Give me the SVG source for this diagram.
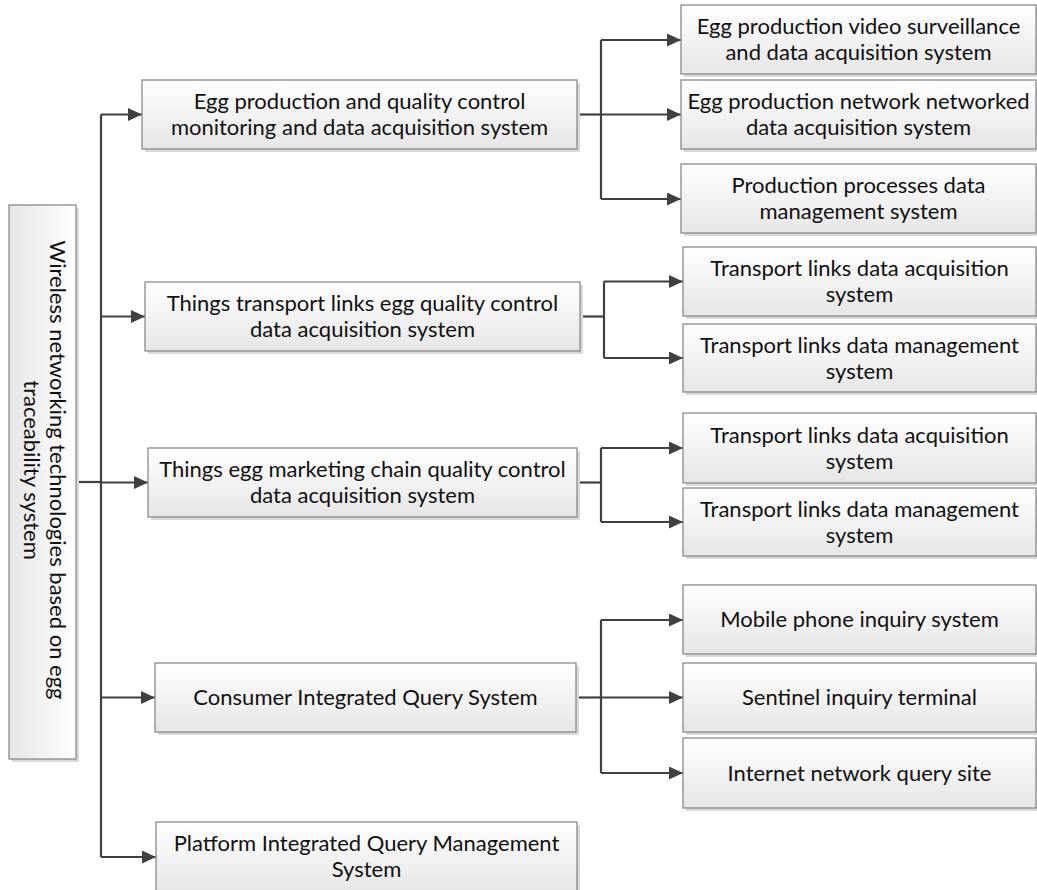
<svg xmlns="http://www.w3.org/2000/svg" width="1037" height="890" viewBox="0 0 1037 890">
<defs>
<linearGradient id="g" x1="0" y1="0" x2="0" y2="1">
<stop offset="0" stop-color="#ffffff"/>
<stop offset="1" stop-color="#e6e6e6"/>
</linearGradient>
<linearGradient id="gv" x1="0" y1="0" x2="1" y2="0">
<stop offset="0" stop-color="#e6e6e6"/>
<stop offset="1" stop-color="#ffffff"/>
</linearGradient>
<marker id="ar" markerUnits="userSpaceOnUse" markerWidth="15" markerHeight="13" refX="14" refY="6.5" orient="auto">
<path d="M0,0 L14,6.5 L0,13 Z" fill="#404040"/>
</marker>
</defs>
<style>
.box{fill:url(#g);stroke:#8a8a8a;stroke-width:1.3}
.sh{fill:#d9d9d9}
.t{font-family:Lato,"Open Sans",sans-serif;font-size:22px;fill:#111;text-anchor:middle}
.c{fill:none;stroke:#404040;stroke-width:2.2}
</style>
<rect width="1037" height="890" fill="#fff"/>

<g id="connectors">
<path class="c" d="M76,482 H101"/>
<path class="c" d="M101,114.5 V857"/>
<path class="c" d="M101,114.5 H142" marker-end="url(#ar)"/>
<path class="c" d="M101,316.5 H145" marker-end="url(#ar)"/>
<path class="c" d="M101,482.5 H148" marker-end="url(#ar)"/>
<path class="c" d="M101,697.5 H155" marker-end="url(#ar)"/>
<path class="c" d="M101,857 H156" marker-end="url(#ar)"/>

<path class="c" d="M577,114.5 H601"/>
<path class="c" d="M601,40 V199"/>
<path class="c" d="M601,40 H681" marker-end="url(#ar)"/>
<path class="c" d="M601,114.5 H681" marker-end="url(#ar)"/>
<path class="c" d="M601,199 H681" marker-end="url(#ar)"/>

<path class="c" d="M580,316.5 H604"/>
<path class="c" d="M604,281.5 V358"/>
<path class="c" d="M604,281.5 H683" marker-end="url(#ar)"/>
<path class="c" d="M604,358 H683" marker-end="url(#ar)"/>

<path class="c" d="M577,482.5 H601"/>
<path class="c" d="M601,448 V522"/>
<path class="c" d="M601,448 H683" marker-end="url(#ar)"/>
<path class="c" d="M601,522 H683" marker-end="url(#ar)"/>

<path class="c" d="M576,697.5 H601"/>
<path class="c" d="M601,620 V773"/>
<path class="c" d="M601,620 H683" marker-end="url(#ar)"/>
<path class="c" d="M601,697.5 H683" marker-end="url(#ar)"/>
<path class="c" d="M601,773 H683" marker-end="url(#ar)"/>
</g>

<g id="root">
<rect class="sh" x="12" y="208" width="67" height="554"/>
<rect x="9" y="205" width="67" height="554" fill="url(#gv)" stroke="#8a8a8a" stroke-width="1.3"/>
<text class="t" transform="translate(42.5,470) rotate(90)"><tspan x="0" y="-7">Wireless networking technologies based on egg</tspan><tspan x="0" y="19">traceability system</tspan></text>
</g>

<g id="n1">
<rect class="sh" x="145" y="83" width="435" height="69"/>
<rect class="box" x="142" y="80" width="435" height="69"/>
<text class="t"><tspan x="359.5" y="109">Egg production and quality control</tspan><tspan x="359.5" y="135">monitoring and data acquisition system</tspan></text>
</g>
<g id="n2">
<rect class="sh" x="148" y="285" width="435" height="69"/>
<rect class="box" x="145" y="282" width="435" height="69"/>
<text class="t"><tspan x="362.5" y="311">Things transport links egg quality control</tspan><tspan x="362.5" y="337">data acquisition system</tspan></text>
</g>
<g id="n3">
<rect class="sh" x="151" y="451" width="429" height="69"/>
<rect class="box" x="148" y="448" width="429" height="69"/>
<text class="t"><tspan x="362.5" y="477">Things egg marketing chain quality control</tspan><tspan x="362.5" y="503">data acquisition system</tspan></text>
</g>
<g id="n4">
<rect class="sh" x="158" y="666" width="421" height="69"/>
<rect class="box" x="155" y="663" width="421" height="69"/>
<text class="t"><tspan x="365.5" y="705">Consumer Integrated Query System</tspan></text>
</g>
<g id="n5">
<rect class="sh" x="159" y="825" width="421" height="69"/>
<rect class="box" x="156" y="822" width="421" height="70"/>
<text class="t"><tspan x="366.5" y="851">Platform Integrated Query Management</tspan><tspan x="366.5" y="877">System</tspan></text>
</g>

<g id="a1">
<rect class="sh" x="684" y="8" width="355" height="69"/>
<rect class="box" x="681" y="5" width="355" height="69"/>
<text class="t"><tspan x="858.5" y="34">Egg production video surveillance</tspan><tspan x="858.5" y="60">and data acquisition system</tspan></text>
</g>
<g id="a2">
<rect class="sh" x="684" y="83" width="355" height="69"/>
<rect class="box" x="681" y="80" width="355" height="69"/>
<text class="t"><tspan x="858.5" y="109">Egg production network networked</tspan><tspan x="858.5" y="135">data acquisition system</tspan></text>
</g>
<g id="a3">
<rect class="sh" x="684" y="167" width="355" height="69"/>
<rect class="box" x="681" y="164" width="355" height="69"/>
<text class="t"><tspan x="858.5" y="193">Production processes data</tspan><tspan x="858.5" y="219">management system</tspan></text>
</g>
<g id="b1">
<rect class="sh" x="686" y="250" width="353" height="69"/>
<rect class="box" x="683" y="247" width="353" height="69"/>
<text class="t"><tspan x="859.5" y="276">Transport links data acquisition</tspan><tspan x="859.5" y="302">system</tspan></text>
</g>
<g id="b2">
<rect class="sh" x="686" y="327" width="353" height="68"/>
<rect class="box" x="683" y="324" width="353" height="68"/>
<text class="t"><tspan x="859.5" y="352.5">Transport links data management</tspan><tspan x="859.5" y="378.5">system</tspan></text>
</g>
<g id="c1">
<rect class="sh" x="686" y="416" width="353" height="70"/>
<rect class="box" x="683" y="413" width="353" height="70"/>
<text class="t"><tspan x="859.5" y="442.5">Transport links data acquisition</tspan><tspan x="859.5" y="468.5">system</tspan></text>
</g>
<g id="c2">
<rect class="sh" x="686" y="491" width="353" height="68"/>
<rect class="box" x="683" y="488" width="353" height="68"/>
<text class="t"><tspan x="859.5" y="516.5">Transport links data management</tspan><tspan x="859.5" y="542.5">system</tspan></text>
</g>
<g id="d1">
<rect class="sh" x="686" y="588" width="353" height="69"/>
<rect class="box" x="683" y="585" width="353" height="69"/>
<text class="t"><tspan x="859.5" y="627">Mobile phone inquiry system</tspan></text>
</g>
<g id="d2">
<rect class="sh" x="686" y="666" width="353" height="69"/>
<rect class="box" x="683" y="663" width="353" height="69"/>
<text class="t"><tspan x="859.5" y="705">Sentinel inquiry terminal</tspan></text>
</g>
<g id="d3">
<rect class="sh" x="686" y="741" width="353" height="70"/>
<rect class="box" x="683" y="738" width="353" height="70"/>
<text class="t"><tspan x="859.5" y="780.5">Internet network query site</tspan></text>
</g>
</svg>
